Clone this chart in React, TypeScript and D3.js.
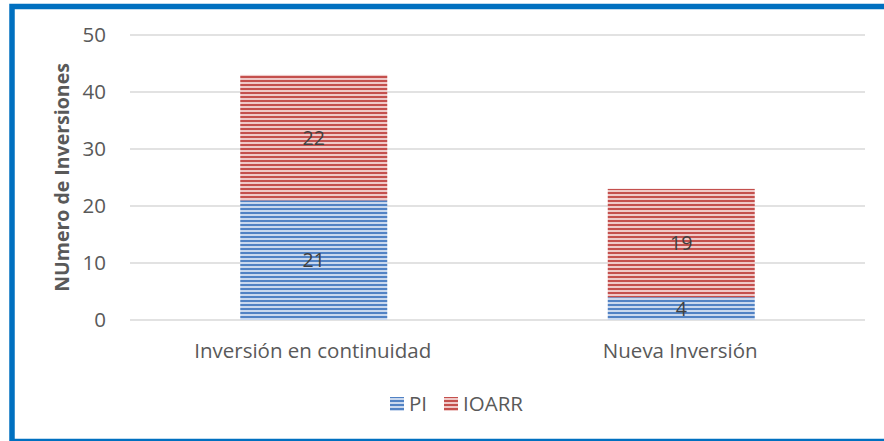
import { useEffect, useRef } from "react";
import * as d3 from "d3";

const categories = ["Inversión en continuidad", "Nueva Inversión"];
const seriesNames = ["PI", "IOARR"];
const piValues = [21, 4];
const ioarrValues = [22, 19];
const yTicks = [0, 10, 20, 30, 40, 50];

const patterns = [
  { id: "hatchBlue", dark: "#5182C4", light: "#C9D8EE" },
  { id: "hatchRed", dark: "#C4504D", light: "#EFC9C8" },
];

export default function App() {
  const ref = useRef<SVGSVGElement>(null);

  useEffect(() => {
    const width = 884;
    const height = 441;
    const margin = { top: 35, right: 19, bottom: 121, left: 130 };
    const svg = d3.select(ref.current);
    svg.selectAll("*").remove();
    svg.attr("width", width).attr("height", height);

    const font = "'Open Sans', 'Liberation Sans', sans-serif";
    const fs = 20.5;

    const defs = svg.append("defs");
    patterns.forEach((p) => {
      const pat = defs
        .append("pattern")
        .attr("id", p.id)
        .attr("patternUnits", "userSpaceOnUse")
        .attr("width", 8)
        .attr("height", 4);
      pat.append("rect").attr("width", 8).attr("height", 4).attr("fill", p.light);
      pat.append("rect").attr("width", 8).attr("height", 2).attr("fill", p.dark);
    });

    svg
      .append("rect")
      .attr("width", width)
      .attr("height", height)
      .attr("fill", "#ffffff");

    const x = d3
      .scaleBand()
      .domain(categories)
      .range([margin.left, width - margin.right]);
    const y = d3
      .scaleLinear()
      .domain([0, 50])
      .range([height - margin.bottom, margin.top]);

    // gridlines
    svg
      .append("g")
      .selectAll("line")
      .data(yTicks)
      .enter()
      .append("line")
      .attr("x1", margin.left)
      .attr("x2", width - margin.right)
      .attr("y1", (d) => y(d))
      .attr("y2", (d) => y(d))
      .attr("stroke", "#D9D9D9")
      .attr("stroke-width", 1.3);

    // tick labels
    svg
      .append("g")
      .selectAll("text")
      .data(yTicks)
      .enter()
      .append("text")
      .attr("x", 106)
      .attr("y", (d) => y(d))
      .attr("dy", "0.36em")
      .attr("text-anchor", "end")
      .attr("font-family", font)
      .attr("font-size", fs)
      .attr("fill", "#595959")
      .text((d) => d);

    const barW = x.bandwidth() * 0.4;
    const stacked = categories.map((c, i) => ({
      cat: c,
      segs: [
        { name: seriesNames[0], y0: 0, y1: piValues[i], v: piValues[i], fill: "url(#hatchBlue)" },
        {
          name: seriesNames[1],
          y0: piValues[i],
          y1: piValues[i] + ioarrValues[i],
          v: ioarrValues[i],
          fill: "url(#hatchRed)",
        },
      ],
    }));

    const bars = svg.append("g");
    stacked.forEach((s) => {
      const cx = (x(s.cat) ?? 0) + x.bandwidth() / 2;
      s.segs.forEach((seg) => {
        bars
          .append("rect")
          .attr("x", cx - barW / 2)
          .attr("y", y(seg.y1))
          .attr("width", barW)
          .attr("height", y(seg.y0) - y(seg.y1))
          .attr("fill", seg.fill);
        bars
          .append("text")
          .attr("x", cx)
          .attr("y", y((seg.y0 + seg.y1) / 2))
          .attr("dy", "0.36em")
          .attr("text-anchor", "middle")
          .attr("font-family", font)
          .attr("font-size", 19.5)
          .attr("fill", "#404040")
          .text(seg.v);
      });
    });

    // category labels
    svg
      .append("g")
      .selectAll("text")
      .data(categories)
      .enter()
      .append("text")
      .attr("x", (d) => (x(d) ?? 0) + x.bandwidth() / 2 - 1)
      .attr("y", 351)
      .attr("dy", "0.36em")
      .attr("text-anchor", "middle")
      .attr("font-family", font)
      .attr("font-size", fs)
      .attr("fill", "#595959")
      .text((d) => d);

    // y axis title
    svg
      .append("text")
      .attr("transform", `translate(62,${(margin.top + height - margin.bottom) / 2}) rotate(-90)`)
      .attr("dy", "0.36em")
      .attr("text-anchor", "middle")
      .attr("font-family", font)
      .attr("font-weight", "bold")
      .attr("font-size", 19.5)
      .attr("fill", "#595959")
      .text("NUmero de Inversiones");

    // legend
    const legend = svg.append("g");
    const legendItems = [
      { name: seriesNames[0], fill: "url(#hatchBlue)", x: 390 },
      { name: seriesNames[1], fill: "url(#hatchRed)", x: 444 },
    ];
    legendItems.forEach((it) => {
      legend
        .append("rect")
        .attr("x", it.x)
        .attr("y", 397)
        .attr("width", 14)
        .attr("height", 14)
        .attr("fill", it.fill);
      legend
        .append("text")
        .attr("x", it.x + 19)
        .attr("y", 404)
        .attr("dy", "0.36em")
        .attr("font-family", font)
        .attr("font-size", fs)
        .attr("fill", "#595959")
        .text(it.name);
    });

    // frame
    svg
      .append("rect")
      .attr("x", 12)
      .attr("y", 6.5)
      .attr("width", 900)
      .attr("height", 435)
      .attr("fill", "none")
      .attr("stroke", "#0070C0")
      .attr("stroke-width", 5.5);
  }, []);

  return (
    <div style={{ position: "absolute", left: 0, top: 0 }}>
      <svg ref={ref}></svg>
    </div>
  );
}
